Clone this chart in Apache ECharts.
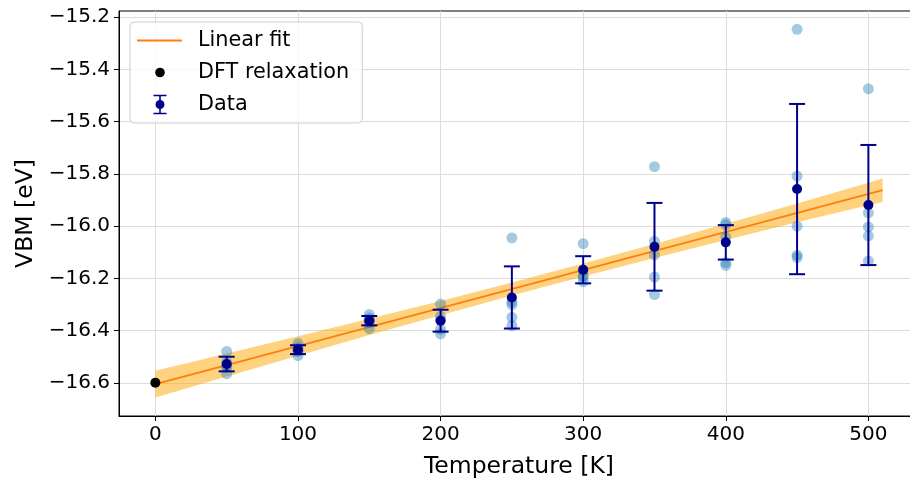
<!DOCTYPE html>
<html><head><meta charset="utf-8">
<script src="https://cdn.jsdelivr.net/npm/echarts@6/dist/echarts.min.js"></script>
<style>html,body{margin:0;padding:0;background:#fff}#c{width:910px;height:480px}</style>
</head><body><div id="c"></div><script>
// ---- data ----
const temps = [50, 100, 150, 200, 250, 300, 350, 400, 450, 500];
const samples = [
  [-16.480, -16.520, -16.535, -16.540, -16.565],
  [-16.449, -16.465, -16.475, -16.480, -16.496],
  [-16.338, -16.352, -16.360, -16.368, -16.392],
  [-16.298, -16.345, -16.360, -16.395, -16.412],
  [-16.045, -16.290, -16.300, -16.349, -16.381],
  [-16.067, -16.170, -16.190, -16.195, -16.213],
  [-15.772, -16.058, -16.110, -16.195, -16.262],
  [-15.986, -15.995, -16.041, -16.140, -16.150],
  [-15.246, -15.808, -16.000, -16.111, -16.120],
  [-15.474, -15.949, -16.003, -16.037, -16.133]
];
const means = [-16.528, -16.473, -16.362, -16.362, -16.273, -16.167, -16.079, -16.062, -15.858, -15.919];
const errs  = [0.028, 0.017, 0.018, 0.042, 0.119, 0.052, 0.168, 0.066, 0.326, 0.230];
const dftT = [0];
const dftV = [-16.600];
const fitT = [0, 510];
const fitV = [-16.605, -15.862];
const bandT    = [0, 50, 100, 150, 200, 250, 300, 350, 400, 450, 500, 510];
const bandHigh = [-16.554, -16.488, -16.422, -16.355, -16.287, -16.216, -16.143, -16.068, -15.991, -15.913, -15.834, -15.817];
const bandLow  = [-16.656, -16.576, -16.496, -16.417, -16.341, -16.266, -16.193, -16.122, -16.053, -15.985, -15.920, -15.907];
const xTicks = [0, 100, 200, 300, 400, 500];
const yTicks = [-16.6, -16.4, -16.2, -16.0, -15.8, -15.6, -15.4, -15.2];

// ---- chart ----
const FONT = 'DejaVu Sans';
const chart = echarts.init(document.getElementById('c'), null, {renderer: 'canvas'});

const samplePts = [];
temps.forEach((t, i) => samples[i].forEach(v => samplePts.push([t, v])));

const lineIcon = 'path://M0,0M56,20M0,9H45V11H0Z';
const dotIcon = 'path://M0,0M56,20M27.8,10A4.8,4.8 0 1 1 18.2,10A4.8,4.8 0 1 1 27.8,10Z';
const ebIcon = 'path://M0,0M56,20M16.5,0.2H29.5V1.8H16.5ZM16.5,18.2H29.5V19.8H16.5ZM22.2,1H23.8V19H22.2ZM27.5,10A4.5,4.5 0 1 1 18.5,10A4.5,4.5 0 1 1 27.5,10Z';

const option = {
  animation: false,
  backgroundColor: '#fff',
  textStyle: {fontFamily: FONT},
  grid: {left: 119, top: 11, width: 800, height: 405, show: true, borderColor: '#000', borderWidth: 1,
         backgroundColor: 'transparent', containLabel: false, outerBoundsMode: 'none'},
  legend: {
    orient: 'vertical', left: 130, top: 22,
    padding: [8, 13, 8, 7],
    itemWidth: 56, itemHeight: 20, itemGap: 11,
    backgroundColor: 'rgba(255,255,255,0.8)', borderColor: '#cccccc', borderWidth: 1, borderRadius: 4,
    textStyle: {fontFamily: FONT, fontSize: 20.8, color: '#000', lineHeight: 20},
    itemStyle: {borderWidth: 0, opacity: 1},
    selectedMode: false,
    data: [
      {name: 'Linear fit', icon: lineIcon},
      {name: 'DFT relaxation', icon: dotIcon},
      {name: 'Data', icon: ebIcon}
    ]
  },
  xAxis: {
    type: 'value', min: -25.5, max: 535.5,
    name: 'Temperature [K]', nameLocation: 'middle', nameGap: 39,
    nameTextStyle: {fontFamily: FONT, fontSize: 23.5, color: '#000'},
    axisLine: {show: true, onZero: false, lineStyle: {color: '#000', width: 1}},
    axisTick: {show: true, length: 5, customValues: xTicks, lineStyle: {color: '#000', width: 1}},
    axisLabel: {customValues: xTicks, fontFamily: FONT, fontSize: 20, color: '#000', margin: 9},
    splitLine: {show: true, lineStyle: {color: '#dcdcdc', width: 1}}
  },
  yAxis: {
    type: 'value', min: -16.727, max: -15.176,
    name: 'VBM [eV]', nameLocation: 'middle', nameGap: 79,
    nameTextStyle: {fontFamily: FONT, fontSize: 23.5, color: '#000'},
    axisLine: {show: true, onZero: false, lineStyle: {color: '#000', width: 1}},
    axisTick: {show: true, length: 5, customValues: yTicks, lineStyle: {color: '#000', width: 1}},
    axisLabel: {customValues: yTicks, fontFamily: FONT, fontSize: 20, color: '#000', margin: 9,
      formatter: v => (v < 0 ? '\u2212' : '') + Math.abs(v).toFixed(1)},
    splitLine: {show: true, lineStyle: {color: '#dcdcdc', width: 1}}
  },
  series: [
    {
      name: 'band', type: 'custom', z: 1, silent: true,
      data: bandT.map((t, i) => [t, bandLow[i], bandHigh[i]]),
      encode: {x: 0, y: [1, 2]},
      renderItem: (params, api) => {
        if (params.dataIndex !== 0) return null;
        const pts = [];
        for (let i = 0; i < bandT.length; i++) pts.push(api.coord([bandT[i], bandHigh[i]]));
        for (let i = bandT.length - 1; i >= 0; i--) pts.push(api.coord([bandT[i], bandLow[i]]));
        return {type: 'polygon', shape: {points: pts}, style: {fill: 'rgba(255,165,0,0.5)', stroke: null}};
      }
    },
    {
      name: 'Linear fit', type: 'line', z: 2, showSymbol: false, symbol: 'none',
      data: fitT.map((t, i) => [t, fitV[i]]),
      itemStyle: {color: '#ff7f0e'},
      lineStyle: {color: '#ff7f0e', width: 2}
    },
    {
      name: 'samples', type: 'scatter', z: 3, symbolSize: 11,
      data: samplePts,
      itemStyle: {color: 'rgba(31,119,180,0.4)', opacity: 1}
    },
    {
      name: 'errbars', type: 'custom', z: 4,
      data: temps.map((t, i) => [t, means[i] - errs[i], means[i] + errs[i]]),
      encode: {x: 0, y: [1, 2]},
      renderItem: (params, api) => {
        const lo = api.coord([api.value(0), api.value(1)]);
        const hi = api.coord([api.value(0), api.value(2)]);
        const cw = 8;
        const st = {stroke: '#00008b', lineWidth: 2};
        return {type: 'group', children: [
          {type: 'line', shape: {x1: lo[0], y1: lo[1], x2: hi[0], y2: hi[1]}, style: st},
          {type: 'line', shape: {x1: lo[0] - cw, y1: lo[1], x2: lo[0] + cw, y2: lo[1]}, style: st},
          {type: 'line', shape: {x1: hi[0] - cw, y1: hi[1], x2: hi[0] + cw, y2: hi[1]}, style: st}
        ]};
      }
    },
    {
      name: 'Data', type: 'scatter', z: 5, symbolSize: 10,
      data: temps.map((t, i) => [t, means[i]]),
      itemStyle: {color: '#00008b', opacity: 1}
    },
    {
      name: 'DFT relaxation', type: 'scatter', z: 5, symbolSize: 10,
      data: dftT.map((t, i) => [t, dftV[i]]),
      itemStyle: {color: '#000000', opacity: 1}
    }
  ]
};
chart.setOption(option);
</script></body></html>
